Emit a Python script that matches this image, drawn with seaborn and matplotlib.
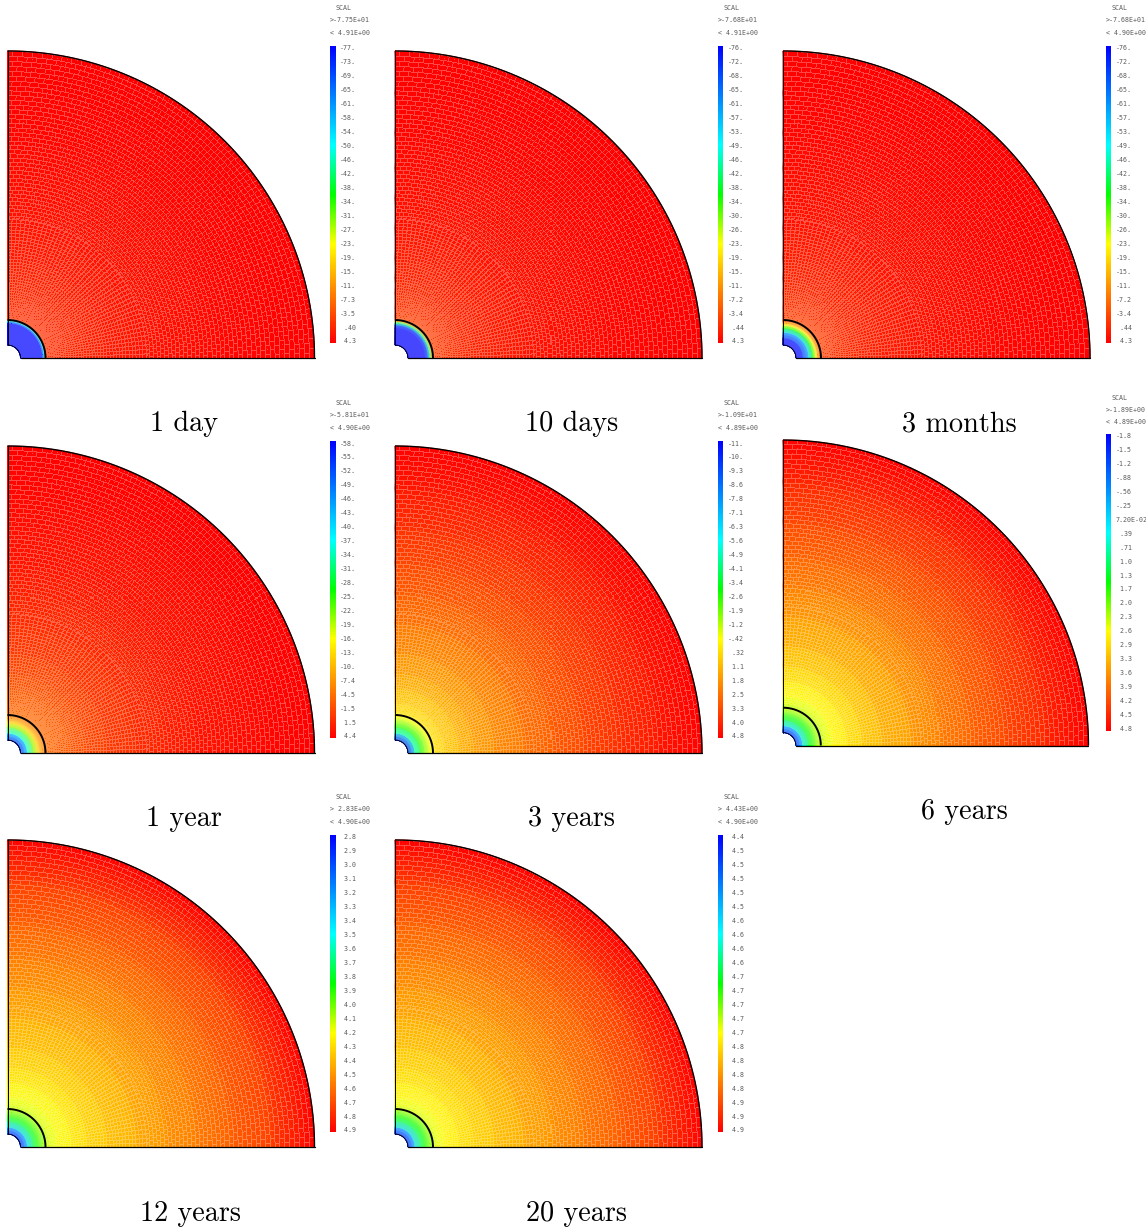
import numpy as np
import seaborn as sns
import matplotlib
matplotlib.use('Agg')
import matplotlib.pyplot as plt

W, H = 1146, 1232

radii = [13, 20, 26, 30, 33, 35, 37, 38.5, 42, 50, 65, 80, 100, 130, 160, 190, 225, 265, 307]

names = ['1 day', '10 days', '3 months', '1 year', '3 years', '6 years', '12 years', '20 years']
scale_min = [-77.5, -76.8, -76.8, -58.1, -10.9, -1.89, 2.83, 4.43]
scale_max = [4.91, 4.91, 4.90, 4.90, 4.89, 4.89, 4.90, 4.90]
headers_low = ['>-7.75E+01', '>-7.68E+01', '>-7.68E+01', '>-5.81E+01', '>-1.09E+01', '>-1.89E+00', '> 2.83E+00', '> 4.43E+00']
headers_high = ['< 4.91E+00', '< 4.91E+00', '< 4.90E+00', '< 4.90E+00', '< 4.89E+00', '< 4.89E+00', '< 4.90E+00', '< 4.90E+00']

field_1day = [-77, -77, -77, -77, -77, -76, -50, -1.5, -.5, 0, .5, 1, 1.7, 2.5, 3.1, 3.6, 4.1, 4.5, 4.91]
field_10days = [-76.8, -76.8, -76.8, -76.5, -68, -44, -15, -3.5, -2, -1, 0, .8, 1.6, 2.5, 3.1, 3.6, 4.1, 4.5, 4.91]
field_3months = [-76, -75, -54, -36, -22, -13, -7, -3, -2, -1, 0, .8, 1.6, 2.5, 3.1, 3.6, 4.1, 4.5, 4.9]
field_1year = [-58, -37, -21.5, -14, -9.5, -7.6, -5.7, -4.5, -3.9, -3.3, -2.3, -1.4, -.1, 1.1, 2.1, 3, 3.6, 4.3, 4.9]
field_3years = [-10.9, -5.2, -2.7, -1.7, -1.1, -.6, -.3, 0, .32, .63, 1.1, 1.5, 1.9, 2.45, 2.93, 3.4, 3.87, 4.35, 4.89]
field_6years = [-1.89, .14, 1.3, 1.7, 2, 2.2, 2.25, 2.3, 2.45, 2.62, 2.87, 3.05, 3.26, 3.5, 3.76, 3.98, 4.25, 4.52, 4.89]
field_12years = [2.83, 3.41, 3.76, 3.91, 3.99, 4.03, 4.07, 4.12, 4.16, 4.2, 4.26, 4.31, 4.36, 4.43, 4.5, 4.56, 4.64, 4.73, 4.90]
field_20years = [4.43, 4.56, 4.64, 4.67, 4.69, 4.70, 4.71, 4.727, 4.735, 4.744, 4.757, 4.768, 4.778, 4.794, 4.81, 4.823, 4.84, 4.862, 4.90]
fields = [field_1day, field_10days, field_3months, field_1year, field_3years, field_6years, field_12years, field_20years]

ticks_1day = ['-77.', '-73.', '-69.', '-65.', '-61.', '-58.', '-54.', '-50.', '-46.', '-42.', '-38.', '-34.', '-31.', '-27.', '-23.', '-19.', '-15.', '-11.', '-7.3', '-3.5', ' .40', ' 4.3']
ticks_10days = ['-76.', '-72.', '-68.', '-65.', '-61.', '-57.', '-53.', '-49.', '-46.', '-42.', '-38.', '-34.', '-30.', '-26.', '-23.', '-19.', '-15.', '-11.', '-7.2', '-3.4', ' .44', ' 4.3']
ticks_3months = ticks_10days
ticks_1year = ['-58.', '-55.', '-52.', '-49.', '-46.', '-43.', '-40.', '-37.', '-34.', '-31.', '-28.', '-25.', '-22.', '-19.', '-16.', '-13.', '-10.', '-7.4', '-4.5', '-1.5', ' 1.5', ' 4.4']
ticks_3years = ['-11.', '-10.', '-9.3', '-8.6', '-7.8', '-7.1', '-6.3', '-5.6', '-4.9', '-4.1', '-3.4', '-2.6', '-1.9', '-1.2', '-.42', ' .32', ' 1.1', ' 1.8', ' 2.5', ' 3.3', ' 4.0', ' 4.8']
ticks_6years = ['-1.8', '-1.5', '-1.2', '-.88', '-.56', '-.25', '7.20E-02', ' .39', ' .71', ' 1.0', ' 1.3', ' 1.7', ' 2.0', ' 2.3', ' 2.6', ' 2.9', ' 3.3', ' 3.6', ' 3.9', ' 4.2', ' 4.5', ' 4.8']
ticks_12years = [' 2.8', ' 2.9', ' 3.0', ' 3.1', ' 3.2', ' 3.3', ' 3.4', ' 3.5', ' 3.6', ' 3.7', ' 3.8', ' 3.9', ' 4.0', ' 4.1', ' 4.2', ' 4.3', ' 4.4', ' 4.5', ' 4.6', ' 4.7', ' 4.8', ' 4.9']
ticks_20years = [' 4.4', ' 4.5', ' 4.5', ' 4.5', ' 4.5', ' 4.5', ' 4.6', ' 4.6', ' 4.6', ' 4.6', ' 4.7', ' 4.7', ' 4.7', ' 4.7', ' 4.7', ' 4.8', ' 4.8', ' 4.8', ' 4.8', ' 4.9', ' 4.9', ' 4.9']
tick_lists = [ticks_1day, ticks_10days, ticks_3months, ticks_1year, ticks_3years, ticks_6years, ticks_12years, ticks_20years]

# where each panel sits on the page: centre of the quarter disc, caption centre
origin_x = [7.5, 395, 783, 7.5, 395, 783, 7.5, 395]
origin_y = [358, 358, 358, 753, 753, 745.5, 1147, 1147]
caption_x = [184, 572, 959, 184, 572, 964, 190, 577]
caption_y = [424, 424, 424, 819, 819, 812, 1214, 1214]
panel_scale = [1, 1, 1, 1, 1, 0.995, 1, 1]
header_shift = [1, 1, 1, 1, 1, 3, 1, 1]

R_hole, R_mid, R_out = 13, 38, 307

sns.set_theme(style='white')
plt.rcParams['font.family'] = ['DejaVu Sans Mono']

rainbow = sns.blend_palette(['#0000ff', '#0080ff', '#00ffff', '#00ff00', '#ffff00', '#ff8000', '#ff0000'],
                            n_colors=256, as_cmap=True)


def box(x0, y0, x1, y1):
    # pixel box (y downwards) to figure fraction
    return [x0 / W, 1 - y1 / H, (x1 - x0) / W, (y1 - y0) / H]


def arc(ax, r, lw):
    t = np.linspace(0, np.pi / 2, 200)
    ax.plot(r * np.cos(t), r * np.sin(t), color='black', lw=lw, solid_capstyle='butt', clip_on=False)


def mesh_overlay(nx, ny, scale):
    # white element edges, one pixel wide, so they alias the way the original does
    u = np.linspace(0, 1, 76)
    rings = np.r_[np.linspace(R_hole, R_mid, 15)[:-1], R_mid + (R_out - R_mid) * (0.58 * u + 0.42 * u ** 2)]
    xp = (np.arange(nx) + 0.5) / scale - 5
    yp = (np.arange(ny) + 0.5) / scale - 5
    xx, yy = np.meshgrid(xp, yp)
    rr = np.hypot(xx, yy)
    tt = np.arctan2(yy, xx)
    i = np.searchsorted(rings, rr)
    # half as many sectors near the centre, brick pattern further out
    j = np.floor(tt / (np.pi / 2 / 96)).astype(int)
    j = np.where(rr < 140, j // 2 * 2, j)
    radial = np.zeros_like(rr, dtype=bool)
    radial[:, :-1] |= j[:, :-1] != j[:, 1:]
    radial[:-1, :] |= j[:-1, :] != j[1:, :]
    radial &= (rr < 140) | ((i + j) % 2 == 0)
    rings_on = np.zeros_like(rr, dtype=bool)
    rings_on[:, :-1] |= i[:, :-1] != i[:, 1:]
    rings_on[:-1, :] |= i[:-1, :] != i[1:, :]
    on = (radial | rings_on) & (rr > R_hole) & (rr < R_out) & (xx > 0) & (yy > 0)
    rgba = np.ones(rr.shape + (4,))
    rgba[..., 3] = on * 0.28
    return rgba


fig = plt.figure(figsize=(W / 100, H / 100), dpi=100, facecolor='white')

for i, name in enumerate(names):
    ox, oy = origin_x[i], origin_y[i]
    s = panel_scale[i]

    ax = fig.add_axes(box(ox - 5 * s, oy - 312 * s, ox + 315 * s, oy + 5 * s))
    ax.axis('off')

    theta = np.linspace(0, np.pi / 2, 121)
    r = np.array(radii, dtype=float)
    X = np.outer(r, np.cos(theta))
    Y = np.outer(r, np.sin(theta))
    C = np.tile(np.array(fields[i])[:, None], (1, theta.size))
    ax.pcolormesh(X, Y, C, shading='gouraud', cmap=rainbow, vmin=scale_min[i], vmax=scale_max[i], zorder=1)

    ax.imshow(mesh_overlay(int(round(320 * s)), int(round(317 * s)), s), origin='lower',
              extent=(-5, 315, -5, 312), interpolation='nearest', aspect='auto', zorder=2)
    ax.set_xlim(-5, 315)
    ax.set_ylim(-5, 312)

    arc(ax, R_hole, 0.6)
    arc(ax, R_mid, 1.4)
    arc(ax, R_out, 1.0)
    ax.plot([0, 0], [R_hole, R_out], color='black', lw=0.7, clip_on=False)
    ax.plot([R_hole, R_out], [0, 0], color='black', lw=0.9, clip_on=False)

    # colour scale
    top, bottom = oy - 312, oy - 15
    left = ox + 322.5
    cax = fig.add_axes(box(left, top, left + 6, bottom))
    strip = np.linspace(scale_min[i], scale_max[i], 256)[:, None]
    sns.heatmap(strip, ax=cax, cmap=rainbow, vmin=scale_min[i], vmax=scale_max[i], cbar=False,
                xticklabels=False, yticklabels=False)
    cax.yaxis.tick_right()
    cax.set_yticks(np.linspace(2 / 297, 295 / 297, 22) * 256)
    cax.set_yticklabels(tick_lists[i], fontsize=4.75, color='#5c5c5c', rotation=0, ha='left',
                        family='DejaVu Sans Mono')
    cax.tick_params(axis='y', length=0, pad=2.9, right=False, left=False)

    d = header_shift[i]
    fig.text((left + 6) / W, 1 - (top - 39 + d) / H, 'SCAL', fontsize=4.75, color='#5c5c5c', ha='left', va='center')
    fig.text(left / W, 1 - (top - 27 + d) / H, headers_low[i], fontsize=4.75, color='#5c5c5c', ha='left', va='center')
    fig.text(left / W, 1 - (top - 14 + d) / H, headers_high[i], fontsize=4.75, color='#5c5c5c', ha='left', va='center')

    fig.text(caption_x[i] / W, 1 - caption_y[i] / H, name, fontsize=20.3, family='cmr10', color='black',
             ha='center', va='center')

fig.savefig('out.png', dpi=100, facecolor='white')
